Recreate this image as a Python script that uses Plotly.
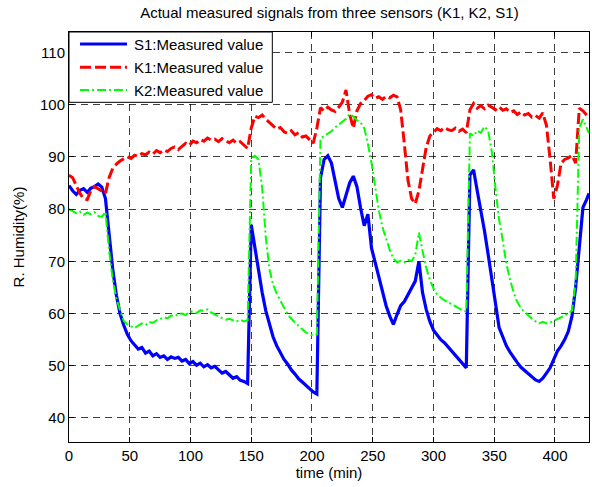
import plotly.graph_objects as go

# Sampling times (min)
time_min = list(range(0, 427, 3)) + [428]

# S1 sensor readings (% RH)
s1_values = [
    84.5, 83.5, 82.8, 83.6, 83.9, 83.2, 84.0, 84.3, 84.8, 84.2,
    82.0, 74.5, 68.5, 63.5, 60.0, 57.8, 56.0, 54.8, 54.0, 53.2,
    53.5, 52.4, 52.8, 51.9, 52.3, 51.6, 51.9, 51.2, 51.7, 51.4,
    51.6, 50.9, 51.2, 50.4, 50.8, 50.1, 50.5, 49.8, 50.2, 49.6,
    49.9, 49.2, 48.6, 48.9, 48.2, 47.6, 47.9, 47.2, 47.0, 46.6,
    77.0, 72.5, 68.0, 64.0, 60.5, 58.0, 55.5, 53.8, 52.5, 51.2,
    50.3, 49.2, 48.4, 47.5, 46.9, 46.2, 45.6, 45.0, 44.6, 86.0,
    89.5, 90.2, 88.8, 85.5, 82.0, 80.3, 82.5, 85.0, 86.3, 84.3,
    80.2, 76.8, 79.0, 72.5, 69.8, 67.0, 64.3, 61.5, 59.5, 57.9,
    59.8, 61.5, 62.3, 63.6, 64.8, 66.2, 70.0, 64.0, 60.8, 58.5,
    56.8, 55.8, 55.0, 54.4, 53.6, 53.0, 52.2, 51.4, 50.6, 49.6,
    86.5, 87.5, 83.5, 80.0, 75.8, 71.3, 67.0, 62.0, 57.3, 55.5,
    53.8, 52.6, 51.5, 50.6, 49.7, 49.1, 48.6, 48.0, 47.3, 47.0,
    47.6, 48.6, 49.6, 51.2, 52.8, 53.8, 55.0, 56.6, 59.5, 65.0,
    73.5, 80.3, 81.8, 83.0,
]

# K1 sensor readings (% RH)
k1_values = [
    86.5, 86.0, 84.5, 83.0, 82.0, 81.8, 83.5, 84.3, 83.9, 83.5,
    83.0, 86.0, 87.8, 88.6, 89.2, 89.6, 90.0, 89.7, 90.3, 90.1,
    90.6, 90.4, 90.9, 90.5, 91.2, 90.8, 91.3, 91.0, 91.6, 91.9,
    91.4, 92.0, 92.6, 92.2, 93.0, 92.7, 93.3, 93.0, 93.6, 93.2,
    93.4, 92.9, 93.5, 93.1, 92.7, 93.2, 92.6, 92.9, 92.3, 91.6,
    95.5, 97.8, 97.5, 98.0, 97.2, 96.6, 96.0, 95.3, 95.6, 94.8,
    94.5, 95.0, 94.2, 94.6, 93.8, 94.0, 93.3, 92.6, 95.5, 99.4,
    98.8, 99.5, 99.0, 98.7, 99.5, 100.5, 102.8, 98.2, 95.5, 98.8,
    100.2, 100.8, 101.6, 101.9, 101.2, 101.5, 101.0, 101.6, 101.3, 101.8,
    101.5, 99.0, 92.5, 85.5, 82.0, 81.0, 83.5, 88.0, 91.8, 94.0,
    94.8, 95.4, 95.0, 95.6, 95.2, 95.0, 95.5, 94.9, 95.3, 94.6,
    99.0, 100.2, 99.3, 99.8, 99.2, 99.9, 99.5, 99.0, 99.6, 98.9,
    99.2, 98.5, 98.8, 98.1, 98.6, 98.0, 98.3, 97.6, 97.9, 97.4,
    98.4, 96.0, 89.5, 82.0, 84.5, 88.8, 89.5, 89.8, 90.3, 88.8,
    99.3, 98.8, 98.0, 97.6,
]

# K2 sensor readings (% RH)
k2_values = [
    80.0, 79.6, 79.2, 79.5, 78.9, 79.3, 79.0, 79.4, 78.7, 78.5,
    79.5, 72.0, 66.5, 62.8, 60.5, 58.6, 57.9, 57.6, 57.2, 57.7,
    58.1, 57.8, 58.4, 58.2, 58.7, 58.9, 59.3, 59.1, 59.6, 59.5,
    59.9, 60.0, 59.7, 60.3, 60.4, 60.1, 60.6, 60.5, 60.8, 60.2,
    59.8, 59.5, 59.1, 58.8, 59.0, 58.7, 58.5, 58.8, 58.5, 58.7,
    89.8, 90.2, 89.5, 84.0, 74.5, 68.5, 65.5, 63.8, 62.4, 61.0,
    59.8, 59.0, 58.2, 57.6, 57.0, 56.4, 56.0, 55.8, 56.0, 93.5,
    94.0, 94.4, 94.9, 95.6, 96.2, 96.8, 97.3, 98.2, 97.7, 97.0,
    96.6, 95.5, 92.5, 88.8, 84.0, 79.8, 76.5, 74.2, 72.2, 70.5,
    69.8, 70.1, 69.8, 70.3, 70.0, 71.2, 75.5, 72.0, 68.8, 66.5,
    64.8, 63.6, 63.0, 62.5, 62.2, 61.8, 61.4, 61.0, 60.6, 60.4,
    94.5, 94.0, 95.0, 94.6, 95.8, 95.0, 91.0, 84.0, 78.0, 74.0,
    69.5, 66.5, 64.0, 62.2, 61.0, 60.3, 59.6, 59.0, 58.5, 58.1,
    58.4, 58.1, 58.3, 58.6, 59.0, 59.3, 59.6, 60.0, 60.6, 66.0,
    95.5, 97.2, 95.5, 94.5,
]

series_names = ["S1:Measured value", "K1:Measured value", "K2:Measured value"]
series_colors = ["#0000FF", "#FF0000", "#00FF00"]
series_widths = [3.2, 3, 2]
series_dashes = ["solid", "11px,4px", "9px,3px,2px,3px"]
series_values = [s1_values, k1_values, k2_values]

FONT = "Liberation Sans, Arial, sans-serif"
FS = 15

fig = go.Figure()
for name, vals, col, w, d in zip(series_names, series_values, series_colors,
                                  series_widths, series_dashes):
    fig.add_trace(go.Scatter(
        x=time_min, y=vals, mode="lines", name=name, showlegend=False,
        line=dict(color=col, width=w, dash=d),
    ))

# Legend box in the upper-left corner of the axes (paper coordinates)
box_right, box_bottom = 0.391, 0.8285
row_y = [0.9707, 0.9139, 0.8585]
sample_x0, sample_x1, text_x = 0.0212, 0.1115, 0.1206

shapes = [dict(
    type="rect", xref="paper", yref="paper", x0=0, x1=box_right,
    y0=box_bottom, y1=1, fillcolor="white",
    line=dict(color="black", width=1), layer="above",
)]
annotations = []
for name, col, w, d, yy in zip(series_names, series_colors, series_widths,
                               series_dashes, row_y):
    shapes.append(dict(
        type="line", xref="paper", yref="paper", x0=sample_x0, x1=sample_x1,
        y0=yy, y1=yy, line=dict(color=col, width=w, dash=d), layer="above",
    ))
    annotations.append(dict(
        xref="paper", yref="paper", x=text_x, y=yy, text=name,
        xanchor="left", yanchor="middle", showarrow=False,
        font=dict(family=FONT, size=FS, color="black"),
    ))

axis_common = dict(
    showline=True, linecolor="black", linewidth=1, mirror="ticks",
    ticks="inside", ticklen=5, tickcolor="black", tickwidth=1,
    showgrid=True, gridcolor="rgba(0,0,0,0.75)", gridwidth=1,
    griddash="7px,5px", zeroline=False,
    tickfont=dict(family=FONT, size=FS, color="black"),
)

fig.update_layout(
    width=592, height=487,
    margin=dict(l=69, r=3, t=32, b=45),
    paper_bgcolor="white", plot_bgcolor="white",
    font=dict(family=FONT, size=FS, color="black"),
    title=dict(
        text="Actual measured signals from three sensors (K1, K2, S1)",
        x=0.5564, xanchor="center", y=1 - 13 / 487, yanchor="middle",
        yref="container", font=dict(family=FONT, size=FS, color="black"),
    ),
    xaxis=dict(
        range=[0, 428], tickvals=list(range(0, 401, 50)),
        title=dict(text="time (min)", standoff=2,
                   font=dict(family=FONT, size=FS)),
        **axis_common,
    ),
    yaxis=dict(
        range=[35.4, 113.9], tickvals=list(range(40, 111, 10)),
        title=dict(text="R. Humidity(%)", standoff=11,
                   font=dict(family=FONT, size=FS)),
        **axis_common,
    ),
    shapes=shapes,
    annotations=annotations,
    showlegend=False,
)

fig.write_html("out.html")
